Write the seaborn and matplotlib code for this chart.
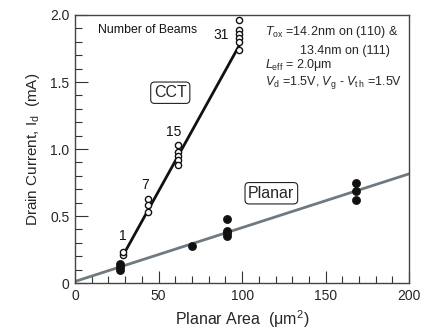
import matplotlib
matplotlib.use("Agg")
import matplotlib.pyplot as plt
import seaborn as sns
import pandas as pd
from matplotlib.ticker import MultipleLocator, FuncFormatter

sns.set_theme(style="ticks")
plt.rcParams['font.family'] = ['Liberation Sans', 'DejaVu Sans']
plt.rcParams['mathtext.fontset'] = 'custom'
plt.rcParams['mathtext.rm'] = 'Liberation Sans'
plt.rcParams['mathtext.it'] = 'Liberation Sans:italic'

# CCT (open circles)
cct_x = [29, 29, 43.5, 43.5, 43.5, 61.5, 61.5, 61.5, 61.5, 61.5, 98.4, 98.4, 98.4, 98.4, 98.4, 98.4]
cct_y = [0.21, 0.23, 0.63, 0.58, 0.53, 1.03, 0.98, 0.95, 0.92, 0.88, 1.96, 1.89, 1.86, 1.83, 1.80, 1.74]
# Planar (filled circles)
planar_x = [27, 27, 27, 70, 91, 91, 91, 91, 168, 168, 168]
planar_y = [0.14, 0.12, 0.10, 0.28, 0.48, 0.39, 0.37, 0.35, 0.75, 0.69, 0.62]
# fit lines
cct_fit_x = [30, 99.5]
cct_fit_y = [0.235, 1.80]
planar_fit_x = [0, 200]
planar_fit_y = [0.012, 0.815]
# beam labels
beam_labels = ["1", "7", "15", "31"]
beam_x = [28.5, 42, 59, 87.5]
beam_y = [0.35, 0.73, 1.13, 1.85]

fig = plt.figure(figsize=(4.24, 3.33), dpi=100)
ax = fig.add_axes([0.177, 0.150, 0.788, 0.805])

sns.lineplot(x=planar_fit_x, y=planar_fit_y, ax=ax, color="#6e7a80", lw=2.0, zorder=2)
sns.lineplot(x=cct_fit_x, y=cct_fit_y, ax=ax, color="#111111", lw=2.0, zorder=2)
sns.scatterplot(x=cct_x, y=cct_y, ax=ax, marker="o", s=20, facecolor="white",
                edgecolor="#111111", linewidth=1.0, zorder=3)
sns.scatterplot(x=planar_x, y=planar_y, ax=ax, marker="o", s=34, color="#111111",
                edgecolor="#111111", linewidth=0.5, zorder=3)

for t, x, y in zip(beam_labels, beam_x, beam_y):
    ax.text(x, y, t, fontsize=10, ha="center", va="center", color="#111111")

ax.text(13.5, 1.89, "Number of Beams", fontsize=8.8, va="center", ha="left", color="#111111")
box = dict(boxstyle="round,pad=0.2,rounding_size=0.25", fc="white", ec="#222222", lw=0.8)
ax.text(57, 1.42, "CCT", fontsize=11.5, ha="center", va="center", bbox=box)
ax.text(117.5, 0.67, "Planar", fontsize=11.5, ha="center", va="center", bbox=box)

fs = 9.0
ax.text(114, 1.875, r"$T_{\mathrm{ox}}$ =14.2nm on (110) &", fontsize=fs, ha="left", va="center")
ax.text(134.5, 1.73, "13.4nm on (111)", fontsize=fs, ha="left", va="center")
ax.text(114, 1.625, r"$L_{\mathrm{eff}}$ = 2.0μm", fontsize=fs, ha="left", va="center")
ax.text(114, 1.495, r"$V_{\mathrm{d}}$ =1.5V, $V_{\mathrm{g}}$ - $V_{\mathrm{t\,h}}$ =1.5V", fontsize=fs, ha="left", va="center")

ax.set_xlim(0, 200)
ax.set_ylim(0, 2.0)
ax.xaxis.set_major_locator(MultipleLocator(50))
ax.xaxis.set_minor_locator(MultipleLocator(10))
ax.yaxis.set_major_locator(MultipleLocator(0.5))
ax.yaxis.set_minor_locator(MultipleLocator(0.1))
ax.yaxis.set_major_formatter(FuncFormatter(lambda v, p: "0" if v == 0 else f"{v:.1f}"))
ax.tick_params(which="major", direction="in", length=9, width=0.8, labelsize=10, color="#333333", pad=4)
ax.tick_params(which="minor", direction="in", length=5, width=0.8, color="#333333")
for s in ax.spines.values():
    s.set_color("#444444")
    s.set_linewidth(1.0)

ax.set_xlabel(r"Planar Area  (μm$^{2}$)", fontsize=11.5, labelpad=4)
ax.set_ylabel(r"Drain Current, I$_{\mathrm{d}}$  (mA)", fontsize=11, labelpad=6)

fig.savefig("out.png", dpi=100)
